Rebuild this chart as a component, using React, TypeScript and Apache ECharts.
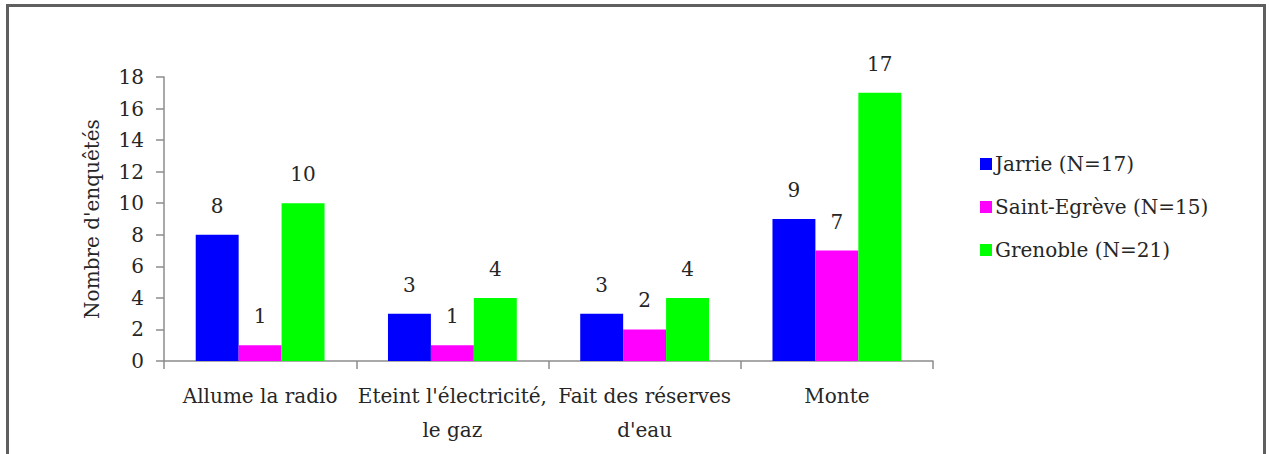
import React, { useEffect, useRef } from "react";
import * as echarts from "echarts";

const categories = ["Allume la radio", "Eteint l'électricité,\nle gaz", "Fait des réserves\nd'eau", "Monte"];
const seriesNames = ["Jarrie (N=17)", "Saint-Egrève (N=15)", "Grenoble (N=21)"];
const jarrie = [8, 3, 3, 9];
const saintEgreve = [1, 1, 2, 7];
const grenoble = [10, 4, 4, 17];
const colors = ["#0000FF", "#FF00FF", "#00FF00"];
const yTicks = { min: 0, max: 18, interval: 2 };

const FONT = "DejaVu Serif";
const TXT = "#262626";
const FS = 20;

export default function App() {
  const ref = useRef<HTMLDivElement>(null);
  useEffect(() => {
    if (!ref.current) return;
    const chart = echarts.init(ref.current, null, { renderer: "svg" });
    const data = [jarrie, saintEgreve, grenoble];
    chart.setOption({
      animation: false,
      backgroundColor: "#ffffff",
      textStyle: { fontFamily: FONT },
      graphic: [
        {
          type: "rect",
          shape: { x: 7.5, y: 5.5, width: 1257, height: 460 },
          style: { fill: "none", stroke: "#5f5f5f", lineWidth: 3 },
          silent: true,
        },
      ],
      legend: {
        orient: "vertical",
        left: 975,
        top: 149,
        itemWidth: 12,
        itemHeight: 12,
        itemGap: 23,
        icon: "rect",
        textStyle: { fontFamily: FONT, fontSize: FS, color: TXT, padding: [0, 0, 0, -2] },
        data: seriesNames,
      },
      grid: { left: 164, right: 336, top: 77, bottom: 93, containLabel: false },
      xAxis: {
        type: "category",
        data: categories,
        axisLine: { lineStyle: { color: "#8c8c8c", width: 1.5 } },
        axisTick: { show: true, length: 8, lineStyle: { color: "#8c8c8c", width: 1.5 } },
        axisLabel: {
          fontFamily: FONT,
          fontSize: FS,
          color: TXT,
          margin: 18,
          lineHeight: 34,
          interval: 0,
        },
      },
      yAxis: {
        type: "value",
        min: yTicks.min,
        max: yTicks.max,
        interval: yTicks.interval,
        name: "Nombre d'enquêtés",
        nameLocation: "middle",
        nameGap: 62,
        nameTextStyle: { fontFamily: FONT, fontSize: FS, color: TXT },
        splitLine: { show: false },
        axisLine: { show: true, lineStyle: { color: "#8c8c8c", width: 1.5 } },
        axisTick: { show: true, length: 8, lineStyle: { color: "#8c8c8c", width: 1.5 } },
        axisLabel: { fontFamily: FONT, fontSize: FS, color: TXT, margin: 20 },
      },
      series: seriesNames.map((name, i) => ({
        name,
        type: "bar",
        data: data[i],
        barGap: "0%",
        barCategoryGap: "33%",
        itemStyle: { color: colors[i] },
        label: {
          show: true,
          position: "top",
          distance: 19,
          fontFamily: FONT,
          fontSize: FS,
          color: TXT,
        },
      })),
    });
    return () => chart.dispose();
  }, []);
  return (
    <div
      ref={ref}
      style={{ position: "absolute", left: 0, top: 0, width: 1269, height: 454 }}
    />
  );
}
